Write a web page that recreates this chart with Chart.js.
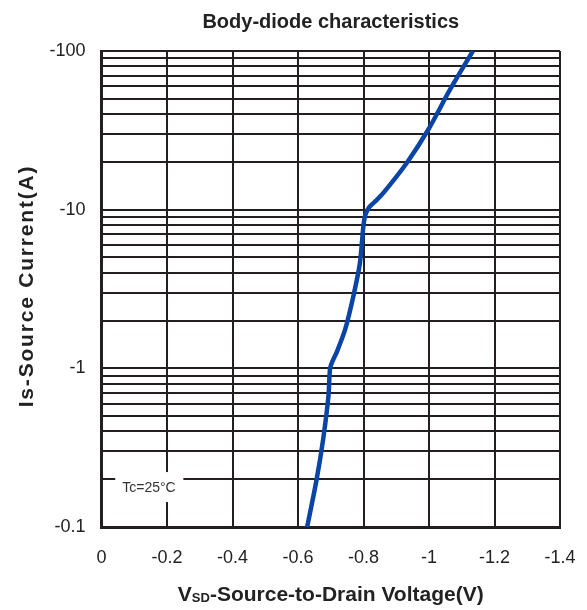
<!DOCTYPE html>
<html>
<head>
<meta charset="utf-8">
<script src="https://cdn.jsdelivr.net/npm/chart.js@4.4.1/dist/chart.umd.min.js"></script>
<style>
  html, body { margin: 0; padding: 0; background: #fff; }
  #chart { display: block; }
</style>
</head>
<body>
<canvas id="chart" width="587" height="610"></canvas>
<script>
// values (Is plotted as magnitude, labelled negative)
const vsd = [-0.628, -0.657, -0.677, -0.693, -0.698, -0.708, -0.718, -0.744, -0.769, -0.789, -0.800, -0.806, -0.818, -0.840, -0.860, -0.932, -0.998, -1.064, -1.134];
const isCurrent = [0.1, 0.2, 0.36, 0.67, 1.0, 1.14, 1.26, 1.76, 2.85, 4.6, 8.0, 9.3, 10.4, 11.5, 12.7, 19.7, 32, 57, 100];
const xTicks = [0, -0.2, -0.4, -0.6, -0.8, -1, -1.2, -1.4];
const yDecades = [0.1, 1, 10, 100];
const noteText = 'Tc=25°C';

const FONT = "'Liberation Sans', Arial, sans-serif";
const GRID = '#231f20';

// log grid: 1..9 per decade
const yTickValues = [];
yDecades.forEach((d, i) => {
    if (i === yDecades.length - 1) { yTickValues.push(d); return; }
    for (let k = 1; k <= 9; k++) yTickValues.push(+(d * k).toPrecision(3));
});

// axis titles + Tc note drawn here so letter spacing / subscript can be matched
const extras = {
    id: 'extras',
    beforeDatasetsDraw(chart) {
        const { ctx, scales: { x, y } } = chart;
        const left = x.getPixelForValue(-0.042), right = x.getPixelForValue(-0.25);
        const top = y.getPixelForValue(0.222), bottom = y.getPixelForValue(0.1436);
        ctx.save();
        ctx.fillStyle = '#fff';
        ctx.fillRect(left, top, right - left, bottom - top);
        ctx.fillStyle = '#333';
        ctx.font = '14px ' + FONT;
        ctx.textAlign = 'center';
        ctx.textBaseline = 'middle';
        ctx.fillText(noteText, x.getPixelForValue(-0.145), y.getPixelForValue(0.176));
        ctx.restore();
    },
    afterDraw(chart) {
        const { ctx, chartArea } = chart;
        ctx.save();
        ctx.fillStyle = '#222';
        ctx.textBaseline = 'alphabetic';
        // x title with subscript SD
        const big = 'bold 21px ' + FONT, small = 'bold 13px ' + FONT;
        const rest = '-Source-to-Drain Voltage(V)';
        ctx.font = big;
        const wV = ctx.measureText('V').width, wRest = ctx.measureText(rest).width;
        ctx.font = small;
        const wSD = ctx.measureText('SD').width;
        let cx = (chartArea.left + chartArea.right) / 2 - (wV + wSD + wRest) / 2;
        const base = 601;
        ctx.font = big; ctx.fillText('V', cx, base); cx += wV;
        ctx.font = small; ctx.fillText('SD', cx, base + 1); cx += wSD;
        ctx.font = big; ctx.fillText(rest, cx, base);
        // y title
        ctx.translate(27, 286);
        ctx.rotate(-Math.PI / 2);
        ctx.font = big;
        ctx.letterSpacing = '1.8px';
        ctx.textAlign = 'center';
        ctx.textBaseline = 'middle';
        ctx.fillText('Is-Source Current(A)', 0, 0);
        ctx.restore();
    }
};

new Chart(document.getElementById('chart'), {
    type: 'line',
    data: {
        datasets: [{
            data: vsd.map((v, i) => ({ x: v, y: isCurrent[i] })),
            borderColor: '#0a45a5',
            borderWidth: 4.5,
            pointRadius: 0,
            tension: 0.25,
            fill: false
        }]
    },
    options: {
        responsive: false,
        animation: false,
        layout: { padding: { left: 0, right: 27, top: 0, bottom: 0 } },
        plugins: {
            legend: { display: false },
            tooltip: { enabled: false },
            title: {
                display: true,
                text: 'Body-diode characteristics',
                fullSize: false,
                color: '#222',
                font: { family: FONT, size: 20, weight: 'bold' },
                padding: { top: 10, bottom: 17 }
            }
        },
        scales: {
            x: {
                type: 'linear',
                min: -1.4,
                max: 0,
                reverse: true,
                afterBuildTicks: s => { s.ticks = xTicks.map(v => ({ value: v })); },
                afterFit: s => { s.height = 83; s.paddingRight = 0; s.paddingLeft = 0; },
                grid: { color: GRID, lineWidth: 2, drawTicks: false },
                border: { color: GRID, width: 3 },
                ticks: {
                    autoSkip: false,
                    maxRotation: 0,
                    padding: 20,
                    color: '#222',
                    font: { family: FONT, size: 18 },
                    callback: v => Math.abs(v) < 1e-9 ? '0' : String(+v.toFixed(1))
                }
            },
            y: {
                type: 'logarithmic',
                min: 0.1,
                max: 100,
                afterBuildTicks: s => { s.ticks = yTickValues.map(v => ({ value: v })); },
                afterFit: s => { s.width = 101.5; },
                grid: { color: GRID, lineWidth: 2, drawTicks: false },
                border: { color: GRID, width: 3 },
                ticks: {
                    autoSkip: false,
                    padding: 16,
                    color: '#222',
                    font: { family: FONT, size: 18 },
                    callback: v => yDecades.includes(v) ? '-' + v : ''
                }
            }
        }
    },
    plugins: [extras]
});
</script>
</body>
</html>
